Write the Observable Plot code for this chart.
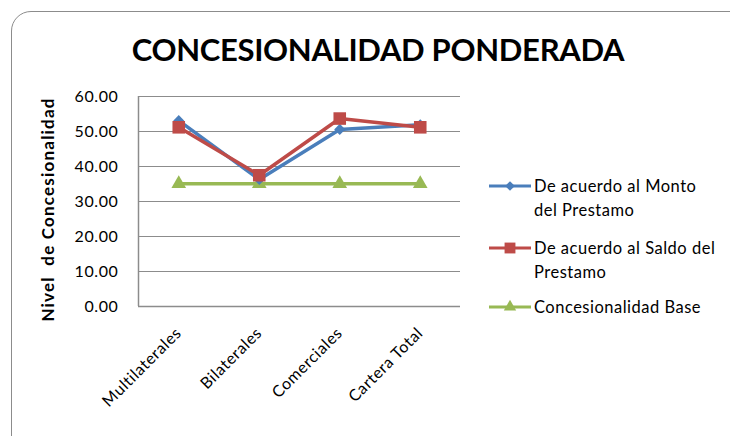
<!DOCTYPE html>
<html>
<head>
<meta charset="utf-8">
<script src="https://cdn.jsdelivr.net/npm/d3@7"></script>
<script src="https://cdn.jsdelivr.net/npm/@observablehq/plot@0.6"></script>
<style>
  html, body { margin: 0; padding: 0; background: #fff; }
  body { width: 730px; height: 436px; overflow: hidden; position: relative; font-family: Lato, "Open Sans", sans-serif; }
  #frame { position: absolute; left: 11px; top: 11px; width: 742px; height: 450px; border: 1.5px solid #8c8c8c; border-radius: 20px; box-sizing: border-box; }
  #chart { position: absolute; left: 0; top: 0; }
  #chart svg text { letter-spacing: 0.6px; }
  #title { position: absolute; left: 0; top: 30px; width: 756px; text-align: center; font-weight: bold; font-size: 31px; color: #000; letter-spacing: -0.3px; }
  .leg { position: absolute; left: 489px; font-size: 16.5px; color: #000; letter-spacing: 0.5px; }
  .leg svg { position: absolute; left: 0; }
  .leg .t { position: absolute; left: 45px; white-space: nowrap; line-height: 24px; }
</style>
</head>
<body>
<div id="frame"></div>
<div id="chart"></div>
<div id="title">CONCESIONALIDAD PONDERADA</div>
<div id="legend"></div>
<script>
const categories = ["Multilaterales", "Bilaterales", "Comerciales", "Cartera Total"];
const montoValues = [53.1, 36.3, 50.6, 51.9];
const saldoValues = [51.2, 37.5, 53.7, 51.2];
const baseValues = [35.1, 35.1, 35.1, 35.1];
const seriesNames = ["De acuerdo al Monto del Prestamo", "De acuerdo al Saldo del Prestamo", "Concesionalidad Base"];
const seriesColors = ["#4A7EBB", "#BE4B48", "#98B954"];
const yTicks = [0, 10, 20, 30, 40, 50, 60];
const yLabel = "Nivel  de Concesionalidad";

const rows = [];
[montoValues, saldoValues, baseValues].forEach((vals, s) => {
  vals.forEach((v, i) => rows.push({series: seriesNames[s], i, v}));
});
const bySeries = s => rows.filter(d => d.series === seriesNames[s]);

const plot = Plot.plot({
  width: 730,
  height: 436,
  marginLeft: 138,
  marginRight: 270,
  marginTop: 96,
  marginBottom: 130,
  style: {fontFamily: "Lato, 'Open Sans', sans-serif", background: "transparent"},
  x: {domain: [-0.5, 3.5], axis: null},
  y: {domain: [0, 60], axis: null},
  marks: [
    Plot.gridY(yTicks, {stroke: "#8c8c8c", strokeOpacity: 1, strokeWidth: 1}),
    Plot.ruleY([0], {stroke: "#8c8c8c", strokeWidth: 1.5}),
    Plot.ruleX([-0.5], {y1: 0, y2: 60, stroke: "#8c8c8c", strokeWidth: 1.5}),
    Plot.axisY(yTicks, {tickSize: 0, tickPadding: 20, tickFormat: d3.format(".2f"), fontSize: 16, label: null, fill: "#000"}),
    Plot.axisX([0, 1, 2, 3], {tickSize: 0, tickPadding: 24, tickRotate: -45, tickFormat: i => categories[i], fontSize: 16, label: null, fill: "#000"}),
    Plot.text([yLabel], {frameAnchor: "left", textAnchor: "middle", dx: -90, dy: 8, rotate: -90, fontWeight: "bold", fontSize: 17, fill: "#000"}),
    // base
    Plot.line(bySeries(2), {x: "i", y: "v", stroke: seriesColors[2], strokeWidth: 3.5}),
    Plot.dot(bySeries(2), {x: "i", y: "v", symbol: "triangle2", r: 7, fill: seriesColors[2]}),
    // monto
    Plot.line(bySeries(0), {x: "i", y: "v", stroke: seriesColors[0], strokeWidth: 3.5}),
    Plot.dot(bySeries(0), {x: "i", y: "v", symbol: "diamond2", r: 5, fill: seriesColors[0]}),
    // saldo
    Plot.line(bySeries(1), {x: "i", y: "v", stroke: seriesColors[1], strokeWidth: 3.5}),
    Plot.dot(bySeries(1), {x: "i", y: "v", symbol: "square2", r: 8, fill: seriesColors[1]})
  ]
});
d3.select(plot).selectAll("text").filter(function() { return this.textContent === yLabel; })
  .style("letter-spacing", "1.2px").style("white-space", "pre");
document.getElementById("chart").appendChild(plot);

// legend
const legendItems = [
  {lines: ["De acuerdo al Monto", "del Prestamo"], y: 186, symbol: d3.symbolDiamond2, size: 60},
  {lines: ["De acuerdo al Saldo del", "Prestamo"], y: 248, symbol: d3.symbolSquare2, size: 150},
  {lines: ["Concesionalidad Base"], y: 307, symbol: d3.symbolTriangle2, size: 110}
];
const legend = document.getElementById("legend");
legendItems.forEach((it, k) => {
  const div = document.createElement("div");
  div.className = "leg";
  div.style.top = (it.y - 12) + "px";
  const svg = d3.create("svg").attr("width", 42).attr("height", 24).style("top", "0px");
  svg.append("line").attr("x1", 0).attr("x2", 42).attr("y1", 12).attr("y2", 12)
    .attr("stroke", seriesColors[k]).attr("stroke-width", 3);
  svg.append("path").attr("d", d3.symbol(it.symbol, it.size)()).attr("transform", "translate(21,12)")
    .attr("fill", seriesColors[k]);
  div.appendChild(svg.node());
  const t = document.createElement("div");
  t.className = "t";
  t.style.top = "0px";
  t.innerHTML = it.lines.join("<br>");
  div.appendChild(t);
  legend.appendChild(div);
});
</script>
</body>
</html>
